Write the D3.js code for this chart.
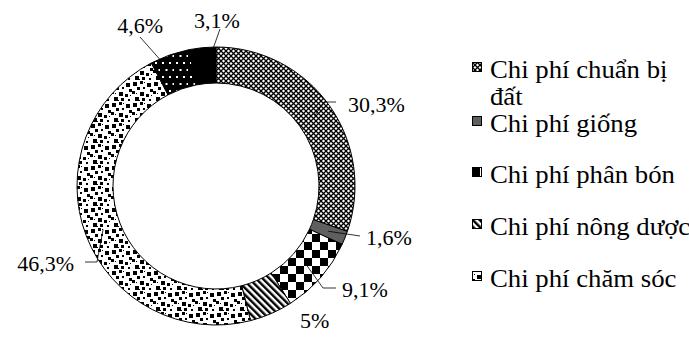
<!DOCTYPE html>
<html>
<head>
<meta charset="utf-8">
<script src="https://cdn.jsdelivr.net/npm/d3@7"></script>
<style>
  html, body { margin: 0; padding: 0; background: #fff; }
  svg { display: block; }
  svg text { font-family: "Liberation Serif", Tinos, "Times New Roman", serif; }
</style>
</head>
<body>
<svg id="chart" width="689" height="352" font-family="Liberation Serif, Tinos, Times New Roman, serif"></svg>
<script>
// Cost structure (percent), clockwise from 12 o'clock
const categories = [
  "Chi phí chuẩn bị đất",
  "Chi phí giống",
  "Chi phí phân bón",
  "Chi phí nông dược",
  "Chi phí chăm sóc",
  "Chi phí thu hoạch",
  "Chi phí khác"
];
const values = [30.3, 1.6, 9.1, 5, 46.3, 4.6, 3.1];
const valueLabels = ["30,3%", "1,6%", "9,1%", "5%", "46,3%", "4,6%", "3,1%"];
// Only the first five entries fit in the legend box
const legendLines = [
  ["Chi phí chuẩn bị", "đất"],
  ["Chi phí giống"],
  ["Chi phí phân bón"],
  ["Chi phí nông dược"],
  ["Chi phí chăm sóc"]
];

const svg = d3.select("#chart");
const defs = svg.append("defs");

// ---- fill patterns ----
function pattern(id, w, h, build, transform) {
  const p = defs.append("pattern")
    .attr("id", id).attr("patternUnits", "userSpaceOnUse")
    .attr("width", w).attr("height", h);
  if (transform) p.attr("patternTransform", transform);
  build(p);
}
// diamond lattice
pattern("p0", 5, 5, p => {
  p.append("rect").attr("width", 5).attr("height", 5).attr("fill", "#fff");
  p.append("path").attr("d", "M0,0L5,5M5,0L0,5").attr("stroke", "#000").attr("stroke-width", 1.3);
  p.append("rect").attr("x", 2).attr("y", 2).attr("width", 1).attr("height", 1).attr("fill", "#000");
});
// solid grey
pattern("p1", 4, 4, p => {
  p.append("rect").attr("width", 4).attr("height", 4).attr("fill", "#5f5f5f");
});
// large checkerboard
pattern("p2", 16, 16, p => {
  p.append("rect").attr("width", 16).attr("height", 16).attr("fill", "#fff");
  p.append("rect").attr("width", 8).attr("height", 8).attr("fill", "#000");
  p.append("rect").attr("x", 8).attr("y", 8).attr("width", 8).attr("height", 8).attr("fill", "#000");
});
// wide downward diagonal stripes
pattern("p3", 4.8, 4.8, p => {
  p.append("rect").attr("width", 4.8).attr("height", 4.8).attr("fill", "#fff");
  p.append("rect").attr("width", 2.4).attr("height", 4.8).attr("fill", "#000");
}, "rotate(-45)");
// large confetti: [x, y, size] blocks in a 21px tile
const confetti = [
  [1, 1, 4], [8, 0, 3], [15, 2, 4], [5, 6, 3], [11, 6, 2], [18, 8, 3],
  [0, 10, 3], [8, 11, 4], [14, 13, 3], [3, 16, 4], [10, 17, 3], [17, 18, 2],
  [12, 1, 1], [4, 12, 1], [19, 14, 1], [7, 19, 1]
];
pattern("p4", 21, 21, p => {
  p.append("rect").attr("width", 21).attr("height", 21).attr("fill", "#fff");
  confetti.forEach(([x, y, s]) =>
    p.append("rect").attr("x", x).attr("y", y).attr("width", s).attr("height", s).attr("fill", "#000"));
});
// white dots on black
pattern("p5", 14, 14, p => {
  p.append("rect").attr("width", 14).attr("height", 14).attr("fill", "#000");
  [[2, 2], [9, 2], [5.5, 9], [12.5, 9]].forEach(([x, y]) =>
    p.append("rect").attr("x", x).attr("y", y).attr("width", 2).attr("height", 2).attr("fill", "#fff"));
});
// solid black
pattern("p6", 4, 4, p => {
  p.append("rect").attr("width", 4).attr("height", 4).attr("fill", "#000");
});

const fills = categories.map((c, i) => `url(#p${i})`);

// ---- donut ----
const cx = 216, cy = 186, rOuter = 139, rInner = 103;
const pie = d3.pie().sort(null).value(d => d);
const arcs = pie(values);
const arc = d3.arc().innerRadius(rInner).outerRadius(rOuter);

const g = svg.append("g").attr("transform", `translate(${cx},${cy})`);
g.selectAll("path.slice").data(arcs).join("path")
  .attr("class", "slice")
  .attr("d", arc)
  .attr("fill", (d, i) => fills[i])
  .attr("stroke", "#000")
  .attr("stroke-width", 1);

// point on the ring at a fraction t through slice i, at radius r (page coordinates)
function ringPoint(i, t, r) {
  const a = arcs[i].startAngle + t * (arcs[i].endAngle - arcs[i].startAngle);
  return [cx + Math.sin(a) * r, cy - Math.cos(a) * r];
}

// ---- data labels with leader lines ----
// [slice, label x, label y, anchor, leader start, leader elbow, fraction, radius]
const labelLayout = [
  [0, 348, 112, "start", [336, 102], [324, 102], 0.5, 121],
  [1, 366, 245, "start", [360, 236], null, 0.5, 121],
  [2, 342, 297, "start", [336, 288], [323, 288], 0.5, 121],
  [3, 300, 328, "start", null, null, 0.5, 121],
  [4, 74, 271, "end", [85, 262], [97, 262], 0.5, 121],
  [5, 163, 33, "end", [140, 37], null, 0.25, 136],
  [6, 217, 28, "middle", [220, 29], null, 0.9, 138]
];

labelLayout.forEach(([i, lx, ly, anchor, p0, p1, t, r]) => {
  if (p0) {
    const pts = [p0];
    if (p1) pts.push(p1);
    pts.push(ringPoint(i, t, r));
    svg.append("path")
      .attr("d", d3.line()(pts))
      .attr("fill", "none")
      .attr("stroke", "#000")
      .attr("stroke-width", 0.8);
  }
  svg.append("text")
    .attr("x", lx).attr("y", ly)
    .attr("text-anchor", anchor)
    .attr("font-size", 22)
    .text(valueLabels[i]);
});

// ---- legend ----
const legendY = [78, 132, 183, 235, 287];
const lg = svg.append("g");
legendLines.forEach((lines, i) => {
  const y = legendY[i];
  lg.append("rect")
    .attr("x", 472.5).attr("y", y - 15.5)
    .attr("width", 9).attr("height", 9)
    .attr("fill", fills[i])
    .attr("stroke", "#000").attr("stroke-width", 1);
  lines.forEach((s, k) => {
    lg.append("text")
      .attr("transform", `translate(490,${y + k * 27}) scale(1.07,1)`)
      .attr("font-size", 25)
      .text(s);
  });
});
</script>
</body>
</html>
